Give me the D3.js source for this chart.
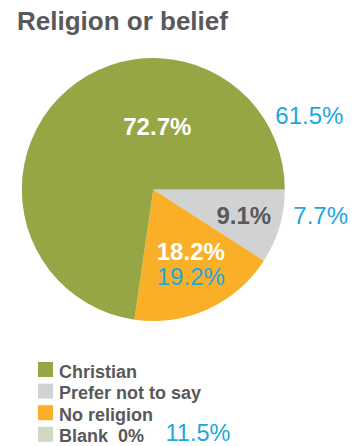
<!DOCTYPE html>
<html>
<head>
<meta charset="utf-8">
<script src="https://cdn.jsdelivr.net/npm/d3@7/dist/d3.min.js"></script>
<style>
  html, body { margin: 0; padding: 0; background: #fff; }
  svg { display: block; font-family: "Liberation Sans", Arial, Helvetica, sans-serif; }
</style>
</head>
<body>
<svg id="chart" width="358" height="446"></svg>
<script>
// Share of respondents by religion or belief (current year, %)
const categories = ["Christian", "Prefer not to say", "No religion", "Blank"];
const currentValues = [72.7, 9.1, 18.2, 0];
// Previous year's shares, shown in blue beside each slice
const previousValues = [61.5, 7.7, 19.2, 11.5];
const sliceColors = ["#96a645", "#d1d2d4", "#faaf28", "#d0d8c3"];

const W = 358, H = 446;
const svg = d3.select("#chart");

const ink = "#58595b";
const blue = "#1aa8e0";

// Title
svg.append("text")
  .attr("x", 17).attr("y", 30)
  .attr("font-size", 26).attr("font-weight", "bold")
  .attr("fill", ink)
  .text("Religion or belief");

// Pie
const cx = 153.3, cy = 189.5, R = 131.5;
const g = svg.append("g").attr("transform", `translate(${cx},${cy})`);

const rows = categories.map((c, i) => ({
  name: c, value: currentValues[i], prev: previousValues[i], color: sliceColors[i], i
}));

// Drawing order clockwise from 3 o'clock: Prefer not to say, No religion, Christian
const drawOrder = [1, 2, 0, 3];
const pie = d3.pie()
  .sort(null)
  .value(d => d.value)
  .startAngle(Math.PI / 2)
  .endAngle(Math.PI / 2 + 2 * Math.PI);

const arcs = pie(drawOrder.map(k => rows[k]));
const arc = d3.arc().innerRadius(0).outerRadius(R);

g.selectAll("path.slice")
  .data(arcs.filter(a => a.data.value > 0))
  .join("path")
  .attr("class", "slice")
  .attr("d", arc)
  .attr("fill", d => d.data.color);

const fmt = v => d3.format(".1f")(v) + "%";

// In-slice value labels (offsets from pie centre, baseline)
const inLabel = {
  0: { dx: 4, dy: -54.5, fill: "#fff" },
  1: { dx: 90.5, dy: 34.5, fill: "#58595b" },
  2: { dx: 37.5, dy: 70.5, fill: "#fff" }
};
arcs.filter(a => a.data.value > 0).forEach(a => {
  const p = inLabel[a.data.i];
  g.append("text")
    .attr("x", p.dx).attr("y", p.dy)
    .attr("text-anchor", "middle")
    .attr("font-size", 24).attr("font-weight", "bold")
    .attr("fill", p.fill)
    .text(fmt(a.data.value));
});

// Previous-year labels beside the slices
const prevLabel = {
  0: { dx: 122, dy: -65.5, anchor: "start" },
  1: { dx: 140, dy: 34.5, anchor: "start" },
  2: { dx: 37.5, dy: 95.5, anchor: "middle" }
};
[0, 1, 2].forEach(k => {
  const p = prevLabel[k];
  g.append("text")
    .attr("x", p.dx).attr("y", p.dy)
    .attr("text-anchor", p.anchor)
    .attr("font-size", 24)
    .attr("fill", blue)
    .text(fmt(rows[k].prev));
});

// Legend
const legend = svg.append("g").attr("transform", "translate(38,362)");
const rowH = 21.6;
rows.forEach((d, i) => {
  const y = i * rowH;
  legend.append("rect")
    .attr("x", 0).attr("y", y)
    .attr("width", 15).attr("height", 15)
    .attr("fill", d.color);
  legend.append("text")
    .attr("x", 21).attr("y", y + 15.5)
    .attr("font-size", 18).attr("font-weight", "bold")
    .attr("fill", ink)
    .style("white-space", "pre")
    .text(d.value > 0 ? d.name : d.name + "  " + d3.format("d")(d.value) + "%");
  if (d.value === 0) {
    legend.append("text")
      .attr("x", 127.5).attr("y", y + 14.2)
      .attr("font-size", 23.5)
      .attr("fill", blue)
      .text(fmt(d.prev));
  }
});
</script>
</body>
</html>
